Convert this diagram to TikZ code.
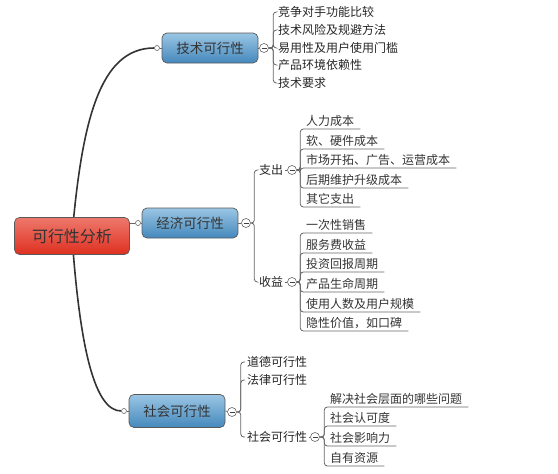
\documentclass[tikz,border=0pt]{standalone}
\usepackage{fontspec}
\newfontfamily\cjk{Noto Sans CJK SC}
\usetikzlibrary{backgrounds}
\begin{document}
\begin{tikzpicture}[x=1pt, y=-1pt,
    trunk/.style={draw=black!80, line width=1.6pt},
    branch/.style={draw=black!60, line width=0.8pt, rounded corners=3pt},
    topic/.style={draw=black!65, line width=0.7pt, rounded corners=5pt,
      top color={rgb,255:red,155;green,198;blue,228}, bottom color={rgb,255:red,68;green,136;blue,188},
      minimum width=96pt, minimum height=30pt, text=black!80,
      font=\cjk\fontsize{13.5}{15}\selectfont},
    rootbox/.style={topic, top color={rgb,255:red,238;green,120;blue,108},
      bottom color={rgb,255:red,222;green,48;blue,32},
      minimum width=115pt, minimum height=37pt, font=\cjk\fontsize{16}{18}\selectfont},
    port/.style={circle, draw=black!60, fill=white, inner sep=0pt, minimum size=5pt, line width=0.6pt},
    toggle/.style={circle, draw=black!60, fill=white, inner sep=0pt, minimum size=9pt, line width=0.6pt,
      path picture={\draw[black!75, line width=0.6pt]
        ([xshift=2pt]path picture bounding box.west) -- ([xshift=-2pt]path picture bounding box.east);}},
    sub/.style={anchor=west, inner xsep=2pt, inner ysep=1pt, text=black!85,
      font=\cjk\fontsize{12}{14}\selectfont},
    leaf/.style={anchor=south west, inner xsep=6pt, inner ysep=2pt, text=black!80,
      font=\cjk\fontsize{12}{14}\selectfont}]
  \useasboundingbox (0,0) rectangle (558,474);

  % main topics
  \node[rootbox] (root) at (72,236) {可行性分析};
  \node[topic] (tech) at (210,48) {技术可行性};
  \node[topic] (econ) at (190,223) {经济可行性};
  \node[topic, minimum height=33pt] (soc) at (177,411) {社会可行性};
  \node[port] (techport) at (157,48) {};
  \node[port] (econport) at (138,223) {};
  \node[port] (socport) at (124,411) {};
  \node[toggle] (techtog) at (264,48) {};
  \node[toggle] (econtog) at (246,223) {};
  \node[toggle] (soctog) at (232,412) {};

  \begin{scope}[on background layer]
    \draw[trunk] (root.center) .. controls (82,120) and (100,48) .. (techport.west);
    \draw[trunk] (root.center) .. controls (80,350) and (95,411) .. (socport.west);
    \draw[branch] (root.center |- econport) -- (econport.west);
  \end{scope}
  \draw[branch] (techport) -- (tech.west);
  \draw[branch] (econport) -- (econ.west);
  \draw[branch] (socport) -- (soc.west);
  \draw[branch] (tech.east) -- (techtog);
  \draw[branch] (econ.east) -- (econtog);
  \draw[branch] (soc.east) -- (soctog);

  % technical
  \node[sub] (t1) at (276,12) {竞争对手功能比较};
  \node[sub] (t2) at (276,30) {技术风险及规避方法};
  \node[sub] (t3) at (276,48) {易用性及用户使用门槛};
  \node[sub] (t4) at (276,65) {产品环境依赖性};
  \node[sub] (t5) at (276,83) {技术要求};
  \foreach \t in {t1,t2,t3,t4,t5}
    \draw[branch] (techtog.east) -- ++(4.5,0) |- (\t.west);

  % economic
  \node[sub] (out) at (257,170) {支出};
  \node[sub] (inc) at (257,282) {收益};
  \node[toggle] (outtog) at (292,170) {};
  \node[toggle] (inctog) at (292,282) {};
  \draw[branch] (out.east) -- (outtog);
  \draw[branch] (inc.east) -- (inctog);
  \draw[branch] (econtog.east) -- ++(3.5,0) |- (out.west);
  \draw[branch] (econtog.east) -- ++(3.5,0) |- (inc.west);

  \node[leaf] (o1) at (300,129) {人力成本};
  \node[leaf] (o2) at (300,149) {软、硬件成本};
  \node[leaf] (o3) at (300,168) {市场开拓、广告、运营成本};
  \node[leaf] (o4) at (300,188) {后期维护升级成本};
  \node[leaf] (o5) at (300,207) {其它支出};
  \foreach \o in {o1,o2,o3,o4,o5}
    \draw[branch] (outtog.east) -- ++(3.5,0) |- (\o.south east);

  \node[leaf] (i1) at (300,233) {一次性销售};
  \node[leaf] (i2) at (300,253) {服务费收益};
  \node[leaf] (i3) at (300,272) {投资回报周期};
  \node[leaf] (i4) at (300,292) {产品生命周期};
  \node[leaf] (i5) at (300,312) {使用人数及用户规模};
  \node[leaf] (i6) at (300,331) {隐性价值，如口碑};
  \foreach \i in {i1,i2,i3,i4,i5,i6}
    \draw[branch] (inctog.east) -- ++(3.5,0) |- (\i.south east);

  % social
  \node[sub] (s1) at (245,362) {道德可行性};
  \node[sub] (s2) at (245,380) {法律可行性};
  \node[sub] (s3) at (245,437) {社会可行性};
  \node[toggle] (s3tog) at (315,437) {};
  \draw[branch] (s3.east) -- (s3tog);
  \foreach \s in {s1,s2,s3}
    \draw[branch] (soctog.east) -- ++(4,0) |- (\s.west);

  \node[leaf] (r1) at (324,407) {解决社会层面的哪些问题};
  \node[leaf] (r2) at (324,426) {社会认可度};
  \node[leaf] (r3) at (324,446) {社会影响力};
  \node[leaf] (r4) at (324,466) {自有资源};
  \foreach \r in {r1,r2,r3,r4}
    \draw[branch] (s3tog.east) -- ++(4.5,0) |- (\r.south east);
\end{tikzpicture}
\end{document}
